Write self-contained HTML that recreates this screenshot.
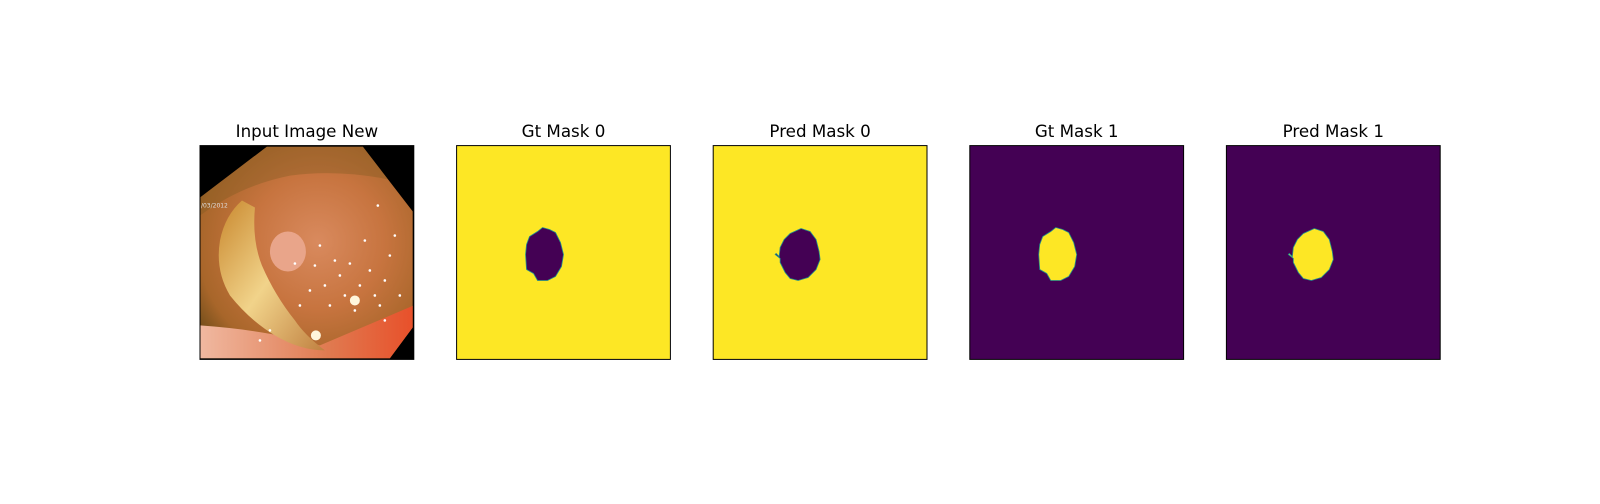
<!DOCTYPE html>
<html><head><meta charset="utf-8"><style>
html,body{margin:0;padding:0;background:#fff;}
body{width:1600px;height:500px;overflow:hidden;position:relative;font-family:"DejaVu Sans","Liberation Sans",sans-serif;}
</style></head><body>
<svg id="fig" width="1600" height="500" viewBox="0 0 1600 500" xmlns="http://www.w3.org/2000/svg">
<defs>
<radialGradient id="tissue" cx="0.55" cy="0.45" r="0.7">
<stop offset="0" stop-color="#d98a5e"/><stop offset="0.45" stop-color="#c7743f"/><stop offset="0.8" stop-color="#a8662a"/><stop offset="1" stop-color="#6a4a18"/>
</radialGradient>
<linearGradient id="fold" x1="0" y1="0" x2="1" y2="1">
<stop offset="0" stop-color="#c9882e"/><stop offset="0.5" stop-color="#f1d38a"/><stop offset="1" stop-color="#c08040"/>
</linearGradient>
<linearGradient id="lower" x1="0" y1="0" x2="1" y2="0">
<stop offset="0" stop-color="#f0b8a0"/><stop offset="0.6" stop-color="#e07a50"/><stop offset="1" stop-color="#e8502a"/>
</linearGradient>
<clipPath id="octo"><polygon points="0,52 67,1 163,1 213,66 213,182 190,213 0,213"/></clipPath>
</defs>
<g id="panels"></g>
</svg>
<script>
const titles = ["Input Image New","Gt Mask 0","Pred Mask 0","Gt Mask 1","Pred Mask 1"];
const maskKinds = [null,"gt","pred","gt","pred"];
const maskInverted = [null,false,false,true,true];
const gtBlob = [[86,82],[81,86],[73,91],[70,99],[69,109],[70,124],[77,128],[81,135],[91,135],[99,131],[105,121],[107,109],[104,97],[99,87],[93,84]];
const predBlob = [[88,83],[77,88],[71,94],[67,102],[66,111],[63,108],[62,109],[67,113],[67,117],[72,127],[77,133],[85,135],[95,132],[103,124],[107,114],[106,106],[103,94],[97,86]];
const dots = [[120,100],[135,115],[140,130],[150,118],[160,140],[170,125],[175,150],[185,135],[190,110],[165,95],[145,150],[130,160],[155,165],[180,160],[125,140],[115,120],[195,90],[178,60],[110,145],[100,160],[60,195],[70,185],[95,118],[200,150],[185,175]];
const NS="http://www.w3.org/2000/svg";
const g=document.getElementById('panels');
const left0=200, top0=145.6, size=213.8, step=256.6;
const YEL="#fde725", PUR="#440154";
function mk(tag,attrs,parent){const e=document.createElementNS(NS,tag);for(const k in attrs)e.setAttribute(k,attrs[k]);parent.appendChild(e);return e;}
titles.forEach((t,i)=>{
  const x=left0+i*step;
  const ax=mk('g',{transform:`translate(${x},${top0})`},g);
  
  
  const tt=mk('text',{x:size/2,y:-8.5,'text-anchor':'middle','font-size':'16.7','fill':'#000','font-family':'"DejaVu Sans","Liberation Sans",sans-serif'},ax);
  tt.textContent=t;
  
  
  const inner=mk('g',{transform:`scale(${size/214})`},ax);
  if(maskKinds[i]===null){
    mk('rect',{x:0,y:0,width:214,height:214,fill:'#000'},inner);
    const c=mk('g',{'clip-path':'url(#octo)'},inner);
    
    
    mk('rect',{x:0,y:0,width:214,height:214,fill:'url(#tissue)'},c);
    mk('path',{d:'M0,180 Q70,185 120,200 L214,160 L214,214 L0,214 Z',fill:'url(#lower)'},c);
    mk('path',{d:'M42,55 Q25,70 20,95 Q15,125 30,150 Q50,175 75,190 Q100,205 125,205 Q105,190 95,175 Q75,150 62,120 Q52,95 55,62 Z',fill:'url(#fold)'},c);
    mk('ellipse',{cx:88,cy:106,rx:18,ry:20,fill:'#e9a58a'},c);
    mk('path',{d:'M0,0 L214,0 L214,40 Q150,22 90,30 Q40,40 0,70 Z',fill:'#7a5a20',opacity:0.35},c);
    dots.forEach(d=>{mk('circle',{cx:d[0],cy:d[1],r:1.3,fill:'#fff'},c);});
    mk('circle',{cx:155,cy:155,r:5,fill:'#fff6dc'},c);
    mk('circle',{cx:116,cy:190,r:5,fill:'#fff6dc'},c);
    const txt=mk('text',{x:1,y:62,'font-size':'6','fill':'#ddd','font-family':'"DejaVu Sans",sans-serif'},inner);
    txt.textContent='/03/2012';
  } else {
    const inv=maskInverted[i];
    mk('rect',{x:0,y:0,width:214,height:214,fill:inv?PUR:YEL},inner);
    const pts=(maskKinds[i]==='gt'?gtBlob:predBlob).map(p=>p.join(',')).join(' ');
    const b=mk('polygon',{points:pts,fill:inv?YEL:PUR,stroke:'#21918c','stroke-width':0.8},inner);
    
    
  }
  mk('rect',{x:0,y:0,width:size,height:size,fill:'none',stroke:'#000','stroke-width':1},ax);
});
</script>
</body></html>
